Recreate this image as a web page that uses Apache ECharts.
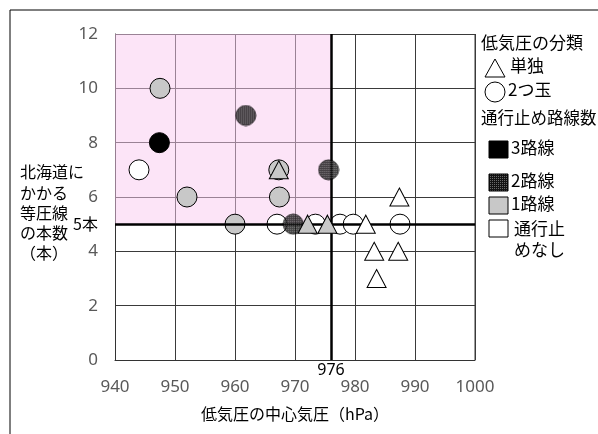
<!DOCTYPE html>
<html><head><meta charset="utf-8">
<script src="https://cdn.jsdelivr.net/npm/echarts@6/dist/echarts.min.js"></script>
<style>html,body{margin:0;padding:0;background:#fff}#c{width:598px;height:434px}</style>
</head><body><div id="c"></div>
<script>
// Data: [central pressure (hPa), number of isobars]
const triWhite = [[981.8,5],[987.4,6],[983.2,4],[987.2,4],[983.6,3]];
const triGray = [[967.3,7],[972.1,5],[975.4,5]];
const circBlack = [[947.4,8]];
const circHatch = [[961.8,9],[975.6,7],[969.7,5]];
const circGray = [[947.5,10],[952,6],[967.4,6],[960,5],[967.3,7]];
const circWhite = [[944,7],[967,5],[973.4,5],[977.5,5],[979.7,5],[987.5,5]];
const xTicks = [940,950,960,970,980,990,1000];
const yTicks = [0,2,4,6,8,10,12];
const refX = 976, refY = 5;

const FONT = '"Noto Sans CJK JP", "Noto Sans", sans-serif';
const NUMFONT = '"Noto Sans", "Open Sans", sans-serif';

function makeHatch(){
  const c = document.createElement('canvas');
  c.width = 4; c.height = 4;
  const g = c.getContext('2d');
  g.fillStyle = '#141414'; g.fillRect(0,0,4,4);
  g.fillStyle = '#6a6a6a';
  g.fillRect(0,0,1,1); g.fillRect(2,2,1,1); g.fillRect(2,0,1,1); g.fillRect(0,2,1,1);
  return c;
}
const hatchCanvas = makeHatch();
const hatch = {image: hatchCanvas, repeat: 'repeat'};

function hatchCircleURL(){
  const s = 22;
  const c = document.createElement('canvas');
  c.width = s; c.height = s;
  const g = c.getContext('2d');
  g.fillStyle = g.createPattern(hatchCanvas, 'repeat');
  g.beginPath(); g.arc(s/2, s/2, 10, 0, Math.PI*2); g.fill();
  g.strokeStyle = '#000'; g.lineWidth = 1; g.stroke();
  return c.toDataURL();
}
const hatchSymbol = 'image://' + hatchCircleURL();

const chart = echarts.init(document.getElementById('c'), null, {renderer:'canvas'});

function circ(data, fill, z){
  return {type:'scatter', data, symbol:'circle', symbolSize:20, z,
    itemStyle:{color:fill, borderColor:'#000', borderWidth:1, opacity:1}, emphasis:{disabled:true}};
}
function tri(data, fill, z){
  return {type:'scatter', data, symbol:'triangle', symbolSize:[19,18], z,
    itemStyle:{color:fill, borderColor:'#000', borderWidth:1, opacity:1}, emphasis:{disabled:true}};
}

const lx = 481;
const LF = '17px ' + FONT;
chart.setOption({
  animation:false,
  textStyle:{fontFamily:FONT},
  grid:{left:115, right:123, top:34, bottom:74, show:false},
  xAxis:{type:'value', min:xTicks[0], max:xTicks[xTicks.length-1], interval:10,
    axisLine:{show:true, lineStyle:{color:'#333', width:1}}, axisTick:{show:false},
    axisLabel:{color:'#595959', fontSize:17, margin:19, fontFamily:NUMFONT, formatter:v=>String(v)},
    splitLine:{show:true, lineStyle:{color:'#3a3a3a', width:1}},
    name:'低気圧の中心気圧（hPa）', nameLocation:'middle', nameGap:46,
    nameTextStyle:{color:'#000', fontSize:16, fontFamily:FONT}},
  yAxis:{type:'value', min:yTicks[0], max:yTicks[yTicks.length-1], interval:2,
    axisLine:{show:true, lineStyle:{color:'#333', width:1}}, axisTick:{show:false},
    axisLabel:{color:'#595959', fontSize:17, margin:17, fontFamily:NUMFONT},
    splitLine:{show:true, lineStyle:{color:'#3a3a3a', width:1}}},
  graphic:[
    {type:'line', shape:{x1:10,y1:10,x2:598,y2:10}, style:{stroke:'#000', lineWidth:1}},
    {type:'line', shape:{x1:10,y1:10,x2:10,y2:434}, style:{stroke:'#000', lineWidth:1}},
    {type:'line', shape:{x1:475,y1:34,x2:475,y2:360}, style:{stroke:'#3a3a3a', lineWidth:1}, z:1},
    {type:'text', left:20, top:162, style:{text:'北海道に\nかかる\n等圧線\nの本数\n（本）', fill:'#000', font:'16px '+FONT, lineHeight:20.3}},
    {type:'text', left:lx, top:34, style:{text:'低気圧の分類', fill:'#000', font:LF}},
    {type:'polygon', shape:{points:[[495,59],[485,77],[505,77]]}, style:{fill:'#fff', stroke:'#000', lineWidth:1}},
    {type:'text', left:510, top:57, style:{text:'単独', fill:'#000', font:LF}},
    {type:'circle', shape:{cx:495, cy:92, r:10}, style:{fill:'#fff', stroke:'#000', lineWidth:1}},
    {type:'text', left:508, top:81, style:{text:'2つ玉', fill:'#000', font:LF}},
    {type:'text', left:lx, top:109, style:{text:'通行止め路線数', fill:'#000', font:'16.5px '+FONT}},
    {type:'rect', shape:{x:489,y:141,width:19,height:17}, style:{fill:'#000', stroke:'#000', lineWidth:1}},
    {type:'text', left:511, top:139, style:{text:'3路線', fill:'#000', font:LF}},
    {type:'rect', shape:{x:489,y:174,width:19,height:17}, style:{fill:hatch, stroke:'#000', lineWidth:1}},
    {type:'text', left:511, top:172, style:{text:'2路線', fill:'#000', font:LF}},
    {type:'rect', shape:{x:489,y:197,width:19,height:17}, style:{fill:'#c8c8c8', stroke:'#000', lineWidth:1}},
    {type:'text', left:511, top:195, style:{text:'1路線', fill:'#000', font:LF}},
    {type:'rect', shape:{x:489,y:220,width:19,height:17}, style:{fill:'#fff', stroke:'#000', lineWidth:1}},
    {type:'text', left:514, top:218, style:{text:'通行止\nめなし', fill:'#000', font:LF, lineHeight:21}}
  ],
  series:[
    {type:'scatter', data:[], z:1, silent:true,
      markArea:{silent:true, itemStyle:{color:'rgba(249,201,239,0.5)'},
        data:[[{coord:[xTicks[0], refY]},{coord:[refX, yTicks[yTicks.length-1]]}]]},
      markLine:{silent:true, symbol:'none', animation:false,
        lineStyle:{color:'#000', width:2.5, type:'solid'},
        label:{show:true, position:'start', color:'#000', fontSize:16, fontFamily:NUMFONT},
        data:[
          [{coord:[refX,0], label:{formatter:String(refX), distance:2}},{coord:[refX,12]}],
          [{coord:[940,refY], label:{formatter:refY+'本', distance:17, fontFamily:FONT}},{coord:[1000,refY]}]
        ]}},
    circ(circWhite, '#fff', 3),
    circ(circGray, '#c8c8c8', 4),
    {type:'scatter', data:circHatch, symbol:hatchSymbol, symbolSize:22, z:5, emphasis:{disabled:true}},
    circ(circBlack, '#000', 6),
    tri(triWhite, '#fff', 7),
    tri(triGray, '#c8c8c8', 7)
  ]
});
</script></body></html>
